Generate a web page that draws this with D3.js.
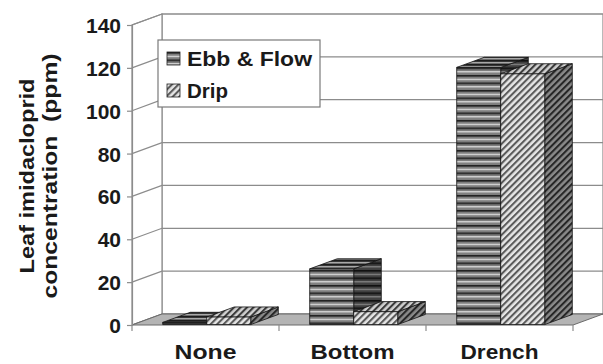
<!DOCTYPE html>
<html>
<head>
<meta charset="utf-8">
<script src="https://cdn.jsdelivr.net/npm/d3@7"></script>
<style>
  html, body { margin: 0; padding: 0; background: #fff; }
  svg { display: block; }
  text { font-family: "Liberation Sans", Arial, sans-serif; font-weight: bold; fill: #1a1a1a; }
</style>
</head>
<body>
<svg id="chart" width="603" height="364"></svg>
<script>
// Leaf imidacloprid concentration by application method and irrigation system
const categories = ["None", "Bottom", "Drench"];
const seriesNames = ["Ebb & Flow", "Drip"];
const ebbFlow = [1, 26, 120];
const drip = [3.5, 6, 117];
const yTicks = [0, 20, 40, 60, 80, 100, 120, 140];
const yTitle = ["Leaf imidacloprid", "concentration  (ppm)"];

const values = { "Ebb & Flow": ebbFlow, "Drip": drip };

const svg = d3.select("#chart");

// front plane of the 3-D box, plus the depth offset to the back wall
const plotLeft = 132, plotRight = 573, plotTop = 25, plotBottom = 325;
const DX = 30, DY = -11;

const y = d3.scaleLinear().domain([0, 140]).range([plotBottom, plotTop]);
const x0 = d3.scaleBand().domain(categories).range([plotLeft, plotRight]).padding(0);
const x1 = d3.scaleBand().domain(seriesNames).range([0, x0.bandwidth()])
  .paddingInner(0).paddingOuter(0.67);

// project (screen-x on front plane, value, depth fraction) to screen
const P = (sx, v, z) => [sx + z * DX, y(v) + z * DY];

// ---- fill patterns ----
const defs = svg.append("defs");

function stripePattern(id, bg, dark, light, h) {
  const p = defs.append("pattern").attr("id", id)
    .attr("patternUnits", "userSpaceOnUse").attr("width", 8).attr("height", h);
  p.append("rect").attr("width", 8).attr("height", h).attr("fill", bg);
  p.append("rect").attr("y", 0).attr("width", 8).attr("height", 1.6).attr("fill", dark);
  p.append("rect").attr("y", h / 2).attr("width", 8).attr("height", 1.2).attr("fill", light);
}
function hatchPattern(id, bg, dark, period) {
  const p = defs.append("pattern").attr("id", id)
    .attr("patternUnits", "userSpaceOnUse").attr("width", period).attr("height", period)
    .attr("patternTransform", "rotate(45)");
  p.append("rect").attr("width", period).attr("height", period).attr("fill", bg);
  p.append("rect").attr("x", 0).attr("width", period * 0.45).attr("height", period).attr("fill", dark);
}
stripePattern("ebbFront", "#7e7e7e", "#222", "#e6e6e6", 7.5);
stripePattern("ebbSide", "#404040", "#111", "#8a8a8a", 7.5);
stripePattern("ebbTop", "#5e5e5e", "#1c1c1c", "#a8a8a8", 4);
hatchPattern("dripFront", "#e6e6e6", "#5a5a5a", 4.6);
hatchPattern("dripSide", "#8a8a8a", "#262626", 4.6);
hatchPattern("dripTop", "#d0d0d0", "#3a3a3a", 4.6);

const fills = {
  "Ebb & Flow": { front: "url(#ebbFront)", side: "url(#ebbSide)", top: "url(#ebbTop)" },
  "Drip": { front: "url(#dripFront)", side: "url(#dripSide)", top: "url(#dripTop)" }
};

const gridColor = "#8c8c8c";
const poly = pts => "M" + pts.map(p => p.join(",")).join("L") + "Z";

// ---- walls and floor ----
const walls = svg.append("g");
// back wall
walls.append("path")
  .attr("d", poly([P(plotLeft, 0, 1), P(plotRight, 0, 1), P(plotRight, 140, 1), P(plotLeft, 140, 1)]))
  .attr("fill", "#fff").attr("stroke", gridColor).attr("stroke-width", 1.2);
// left wall
walls.append("path")
  .attr("d", poly([P(plotLeft, 0, 0), P(plotLeft, 0, 1), P(plotLeft, 140, 1), P(plotLeft, 140, 0)]))
  .attr("fill", "#fff").attr("stroke", gridColor).attr("stroke-width", 1.2);

// gridlines along the left wall and back wall
walls.selectAll("path.grid").data(yTicks).join("path").attr("class", "grid")
  .attr("d", d => "M" + P(plotLeft, d, 0).join(",") + "L" + P(plotLeft, d, 1).join(",") +
    "L" + P(plotRight, d, 1).join(","))
  .attr("fill", "none").attr("stroke", gridColor).attr("stroke-width", 1.2);

// floor
walls.append("path")
  .attr("d", poly([P(plotLeft, 0, 0), P(plotRight, 0, 0), P(plotRight, 0, 1), P(plotLeft, 0, 1)]))
  .attr("fill", "#b4b4b4").attr("stroke", "#6a6a6a").attr("stroke-width", 1);

// ---- value axis on the front edge ----
const yAxis = d3.axisLeft(y).tickValues(yTicks).tickSize(5).tickPadding(8);
const ya = svg.append("g").attr("transform", `translate(${plotLeft},0)`).call(yAxis);
ya.select(".domain").attr("stroke", gridColor).attr("stroke-width", 1.2);
ya.selectAll(".tick line").attr("stroke", gridColor).attr("stroke-width", 1.2);
ya.selectAll(".tick text").attr("font-size", 21).attr("fill", "#1a1a1a")
  .attr("font-family", "'Liberation Sans', Arial, sans-serif").attr("font-weight", "bold")
  .attr("dx", 2).attr("dy", "0.36em");

// ---- category axis under the floor ----
const catWidths = { "None": 62, "Bottom": 84, "Drench": 78 };
const xAxis = d3.axisBottom(x0).tickSize(6).tickPadding(13);
const xa = svg.append("g").attr("transform", `translate(0,${plotBottom})`).call(xAxis);
xa.select(".domain").remove();
xa.selectAll(".tick line")
  .attr("transform", `translate(${x0.bandwidth() / 2},0)`)
  .attr("stroke", gridColor).attr("stroke-width", 1.2);
xa.selectAll(".tick text").attr("font-size", 21).attr("fill", "#1a1a1a")
  .attr("font-family", "'Liberation Sans', Arial, sans-serif").attr("font-weight", "bold")
  .attr("dy", "0.71em")
  .attr("textLength", d => catWidths[d]).attr("lengthAdjust", "spacingAndGlyphs");
svg.append("line")
  .attr("x1", plotLeft).attr("x2", plotLeft).attr("y1", plotBottom).attr("y2", plotBottom + 6)
  .attr("stroke", gridColor).attr("stroke-width", 1.2);

// ---- 3-D columns ----
const z0 = 0.04, z1 = 0.96;
const bars = [];
categories.forEach((c, i) => {
  seriesNames.forEach(s => {
    bars.push({ cat: c, series: s, value: values[s][i] });
  });
});

const barG = svg.append("g");
bars.forEach(b => {
  const bx0 = x0(b.cat) + x1(b.series);
  const bx1 = bx0 + x1.bandwidth();
  const v = b.value;
  const g = barG.append("g");
  // right side
  g.append("path")
    .attr("d", poly([P(bx1, 0, z0), P(bx1, v, z0), P(bx1, v, z1), P(bx1, 0, z1)]))
    .attr("fill", fills[b.series].side).attr("stroke", "#111").attr("stroke-width", 0.8);
  // top
  g.append("path")
    .attr("d", poly([P(bx0, v, z0), P(bx1, v, z0), P(bx1, v, z1), P(bx0, v, z1)]))
    .attr("fill", fills[b.series].top).attr("stroke", "#111").attr("stroke-width", 0.8);
  // front
  g.append("path")
    .attr("d", poly([P(bx0, 0, z0), P(bx1, 0, z0), P(bx1, v, z0), P(bx0, v, z0)]))
    .attr("fill", fills[b.series].front).attr("stroke", "#111").attr("stroke-width", 0.8);
});

// ---- value axis title ----
const titleG = svg.append("g");
const titleLengths = [195, 245];
[34, 57].forEach((bx, i) => {
  titleG.append("text")
    .attr("transform", `translate(${bx},176) rotate(-90)`)
    .attr("text-anchor", "middle")
    .attr("font-size", 20)
    .attr("textLength", titleLengths[i]).attr("lengthAdjust", "spacingAndGlyphs")
    .style("white-space", "pre")
    .text(yTitle[i]);
});

// ---- legend ----
const legendWidths = { "Ebb & Flow": 125, "Drip": 41 };
const lg = svg.append("g").attr("transform", "translate(158,40)");
lg.append("rect").attr("width", 162).attr("height", 67)
  .attr("fill", "#fff").attr("stroke", "#7a7a7a").attr("stroke-width", 1.2);
seriesNames.forEach((s, i) => {
  const row = lg.append("g").attr("transform", `translate(0,${12 + i * 32})`);
  row.append("rect").attr("x", 9).attr("y", 0).attr("width", 13).attr("height", 13)
    .attr("fill", fills[s].front).attr("stroke", "#222").attr("stroke-width", 0.8);
  row.append("text").attr("x", 29).attr("y", 14).attr("font-size", 21)
    .attr("textLength", legendWidths[s]).attr("lengthAdjust", "spacingAndGlyphs")
    .text(s);
});
</script>
</body>
</html>
